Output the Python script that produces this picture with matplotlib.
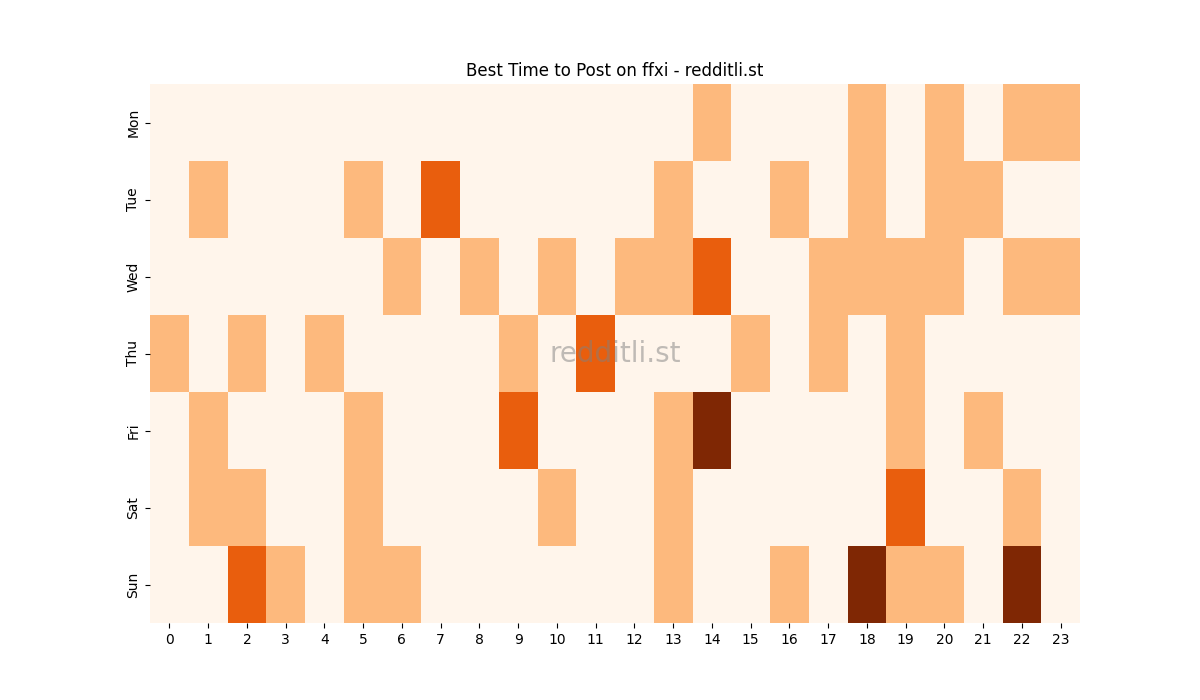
import numpy as np
import matplotlib
matplotlib.use('Agg')
import matplotlib.pyplot as plt
import seaborn as sns

days = ['Mon', 'Tue', 'Wed', 'Thu', 'Fri', 'Sat', 'Sun']
hours = list(range(24))

# posts per day/hour
mon = [0, 0, 0, 0, 0, 0, 0, 0, 0, 0, 0, 0, 0, 0, 1, 0, 0, 0, 1, 0, 1, 0, 1, 1]
tue = [0, 1, 0, 0, 0, 1, 0, 2, 0, 0, 0, 0, 0, 1, 0, 0, 1, 0, 1, 0, 1, 1, 0, 0]
wed = [0, 0, 0, 0, 0, 0, 1, 0, 1, 0, 1, 0, 1, 1, 2, 0, 0, 1, 1, 1, 1, 0, 1, 1]
thu = [1, 0, 1, 0, 1, 0, 0, 0, 0, 1, 0, 2, 0, 0, 0, 1, 0, 1, 0, 1, 0, 0, 0, 0]
fri = [0, 1, 0, 0, 0, 1, 0, 0, 0, 2, 0, 0, 0, 1, 3, 0, 0, 0, 0, 1, 0, 1, 0, 0]
sat = [0, 1, 1, 0, 0, 1, 0, 0, 0, 0, 1, 0, 0, 1, 0, 0, 0, 0, 0, 2, 0, 0, 1, 0]
sun = [0, 0, 2, 1, 0, 1, 1, 0, 0, 0, 0, 0, 0, 1, 0, 0, 1, 0, 3, 1, 1, 0, 3, 0]

data = np.array([mon, tue, wed, thu, fri, sat, sun])

fig, ax = plt.subplots(figsize=(12, 7), dpi=100)
sns.heatmap(data, cmap='Oranges', cbar=False, ax=ax,
            xticklabels=hours, yticklabels=days)
plt.setp(ax.get_yticklabels(), rotation=90, va='center')
plt.setp(ax.get_xticklabels(), rotation=0)
ax.set_title('Best Time to Post on ffxi - redditli.st')
ax.text(0.5, 0.5, 'redditli.st', transform=ax.transAxes, fontsize=20,
        color='gray', alpha=0.5, ha='center', va='center')

plt.savefig('out.png')
